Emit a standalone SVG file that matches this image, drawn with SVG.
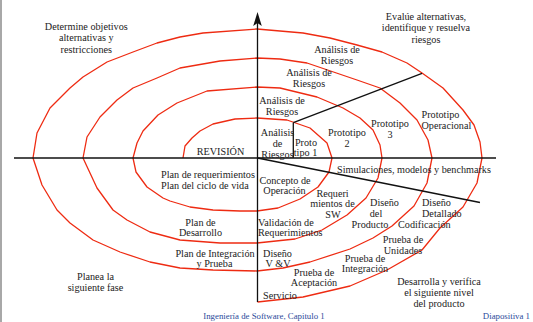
<svg xmlns="http://www.w3.org/2000/svg" width="533" height="322" viewBox="0 0 533 322">
<style>
.t{font-family:"Liberation Serif","Times New Roman",serif;font-size:10.2px;fill:#222;text-anchor:middle}
.s{text-anchor:start}
.f{font-family:"Liberation Serif","Times New Roman",serif;font-size:8.8px;fill:#2a4a9a}
.ax{stroke:#111;stroke-width:1.3;fill:none}
.sp{stroke:#ee2b12;stroke-width:1.3;fill:none;stroke-linejoin:round}
</style>
<rect x="0" y="0" width="533" height="322" fill="#fff"/>
<rect x="0" y="0" width="2" height="322" fill="#a8a8a8"/>
<g id="spiral">
<polyline class="sp" points="183,158 185,146 192,138 200,131 213,124 235,119 257,118 287,120 310,128 327,143 332,158 329,172 318,187 300,199 278,208 257,211 240,211 213,210 190,207 170,201 163,198 147,187 136,172 133,158 137,143 143,131 158,115 177,103 207,91 257,87 280,88 317,97 343,108 360,118 373,130 380,145 382,158 378,178 366,198 347,215 322,230 295,239 257,243 220,243 180,240 150,232 127,220 113,210 97,188 83,158 87,137 100,117 117,100 133,88 157,78 180,68 220,61 257,58 280,59 307,63 357,80 380,88 400,103 417,120 428,140 432,158 427,183 414,206 392,226 373,238 350,249 310,262 283,268 257,271 213,270 180,268 150,262 120,252 93,240 70,223 57,210 42,185 33,158 37,133 50,108 70,88 83,77 107,62 133,52 157,43 180,37 203,33 257,29 303,33 330,38 357,45 382,52 407,63 422,73 443,88 463,110 474,125 480,142 482,158 477,183 463,207 440,228 422,250 387,270 350,286 303,297 257.5,302"/>
</g>
<g id="connectors">
<line class="ax" x1="257.5" y1="302" x2="257.5" y2="22"/>
<path d="M257.5,12 L261.8,26 L257.5,23 L253.2,26 Z" fill="#111"/>
<line class="ax" x1="14" y1="158" x2="496" y2="158"/>
<line class="ax" x1="257.5" y1="158" x2="480" y2="202.5"/>
<line class="ax" x1="293.3" y1="158" x2="293.3" y2="122.7"/>
<line class="ax" x1="293.3" y1="122.7" x2="422" y2="73.3"/>
</g>
<g id="q1"><text class="t" x="86.3" y="29.5">Determine objetivos</text><text class="t" x="86.3" y="41">alternativas y</text><text class="t" x="86.3" y="52.5">restricciones</text></g>
<g id="q2"><text class="t" x="426" y="19.5">Evalúe alternativas,</text><text class="t" x="426" y="31">identifique y resuelva</text><text class="t" x="426" y="42.5">riesgos</text></g>
<g id="ar4"><text class="t" x="337" y="52.5">Análisis de</text><text class="t" x="337" y="63.5">Riesgos</text></g>
<g id="ar3"><text class="t" x="309" y="75.5">Análisis de</text><text class="t" x="309" y="86.5">Riesgos</text></g>
<g id="ar2"><text class="t" x="282" y="103.5">Análisis de</text><text class="t" x="282" y="114.5">Riesgos</text></g>
<g id="ar1"><text class="t" x="277.5" y="135.5">Análisis</text><text class="t" x="277.5" y="146.5">de</text><text class="t" x="277.5" y="157.5">Riesgos</text></g>
<g id="proto1"><text class="t" x="306" y="145.5">Proto</text><text class="t" x="305.5" y="155.5">tipo 1</text></g>
<g id="revision"><text class="t" x="220.5" y="154.5">REVISIÓN</text></g>
<g id="proto2"><text class="t" x="347" y="135.5">Prototipo</text><text class="t" x="347" y="146.5">2</text></g>
<g id="proto3"><text class="t" x="390" y="126.5">Prototipo</text><text class="t" x="390" y="137.5">3</text></g>
<g id="protoop"><text class="t s" x="421.5" y="117.5">Prototipo</text><text class="t s" x="421.5" y="128.5">Operacional</text></g>
<g id="sim"><text class="t s" x="337" y="172.5">Simulaciones, modelos y benchmarks</text></g>
<g id="planreq"><text class="t s" x="161" y="177.5">Plan de requerimientos</text><text class="t s" x="161" y="188.5">Plan del ciclo de vida</text></g>
<g id="concepto"><text class="t" x="285" y="183.5">Concepto de</text><text class="t" x="284.5" y="193.5">Operación</text></g>
<g id="reqsw"><text class="t" x="332.5" y="196.5">Requeri</text><text class="t" x="332.5" y="207">mientos de</text><text class="t" x="333" y="218">SW</text></g>
<g id="disprod"><text class="t" x="384.5" y="205.5">Diseño</text><text class="t" x="376" y="216.5">del</text><text class="t" x="370" y="228">Producto</text></g>
<g id="disdet"><text class="t s" x="422" y="205.5">Diseño</text><text class="t s" x="422" y="216.5">Detallado</text><text class="t s" x="398" y="228">Codificación</text></g>
<g id="pruni"><text class="t" x="403" y="242.5">Prueba de</text><text class="t" x="403" y="253.5">Unidades</text></g>
<g id="print"><text class="t" x="365" y="261.5">Prueba de</text><text class="t" x="365" y="272">Integración</text></g>
<g id="q4"><text class="t" x="439" y="284.5">Desarrolla y verifica</text><text class="t" x="439" y="295.5">el siguiente nivel</text><text class="t" x="439" y="306.5">del producto</text></g>
<g id="plandes"><text class="t" x="200.5" y="225.5">Plan de</text><text class="t" x="200.5" y="236">Desarrollo</text></g>
<g id="valreq"><text class="t s" x="258" y="225.5">Validación de</text><text class="t s" x="258" y="236">Requerimientos</text></g>
<g id="planint"><text class="t" x="215" y="256.5">Plan de Integración</text><text class="t" x="214.5" y="267">y Prueba</text></g>
<g id="disvv"><text class="t" x="277.5" y="256.5">Diseño</text><text class="t" x="278" y="267">V &amp;V</text></g>
<g id="pracep"><text class="t" x="314" y="275.5">Prueba de</text><text class="t" x="314" y="286">Aceptación</text></g>
<g id="servicio"><text class="t" x="280" y="298.5">Servicio</text></g>
<g id="q3"><text class="t" x="95.5" y="279.5">Planea la</text><text class="t" x="95.5" y="291">siguiente fase</text></g>
<g id="footer"><text class="f" x="264" y="319" text-anchor="middle">Ingeniería de Software, Capitulo 1</text><text class="f" x="530" y="319" text-anchor="end">Diapositiva 1</text></g>
</svg>
